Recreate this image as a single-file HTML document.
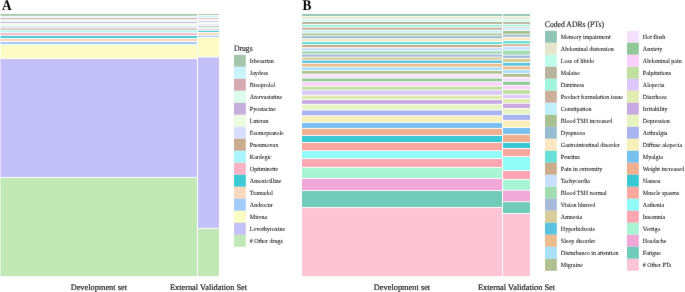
<!DOCTYPE html>
<html><head><meta charset="utf-8"><title>Mosaic</title>
<style>
html,body{margin:0;padding:0;background:#fff;}
body{width:685px;height:292px;overflow:hidden;}
svg{display:block;}
text{font-family:"Liberation Serif",serif;fill:#1e1e1e;stroke:#1e1e1e;stroke-width:0.15px;text-rendering:geometricPrecision;}
svg{will-change:transform;}
.lg{font-size:6px;stroke-width:0.08px;}
.tt{font-size:7.7px;}
.pl{font-size:13.3px;font-weight:bold;fill:#000;stroke:none;}
.ax{font-size:8.35px;text-anchor:middle;stroke-width:0.2px;}
</style></head><body>
<svg width="685" height="292" viewBox="0 0 685 292">
<rect x="0" y="0" width="685" height="292" fill="#fff"/>
<defs><filter id="bl" x="-2%" y="-2%" width="104%" height="104%" color-interpolation-filters="sRGB"><feConvolveMatrix order="3" kernelMatrix="0.00345 0.05875 0.00345 0.05875 1.00000 0.05875 0.00345 0.05875 0.00345" edgeMode="none"/></filter></defs>
<g filter="url(#bl)">
<rect x="0.50" y="14.00" width="196.50" height="1.75" fill="#a4c6aa"/>
<rect x="0.50" y="16.65" width="196.50" height="0.50" fill="#c8f4fc"/>
<rect x="0.50" y="18.05" width="196.50" height="1.10" fill="#d8aab2"/>
<rect x="0.50" y="20.05" width="196.50" height="1.10" fill="#dcfcee"/>
<rect x="0.50" y="22.05" width="196.50" height="1.00" fill="#c4aedc"/>
<rect x="0.50" y="23.95" width="196.50" height="1.40" fill="#ecfce0"/>
<rect x="0.50" y="26.25" width="196.50" height="1.50" fill="#d8dffc"/>
<rect x="0.50" y="28.65" width="196.50" height="1.10" fill="#caac8e"/>
<rect x="0.50" y="30.65" width="196.50" height="1.70" fill="#a8f6fa"/>
<rect x="0.50" y="33.25" width="196.50" height="1.90" fill="#fcb2c6"/>
<rect x="0.50" y="36.05" width="196.50" height="1.90" fill="#3ccad4"/>
<rect x="0.50" y="38.85" width="196.50" height="2.30" fill="#fcd8bc"/>
<rect x="0.50" y="42.05" width="196.50" height="2.10" fill="#a2ccfc"/>
<rect x="0.50" y="45.05" width="196.50" height="13.10" fill="#fcfcc4"/>
<rect x="0.50" y="59.05" width="196.50" height="117.90" fill="#c4c0f8"/>
<rect x="0.50" y="177.85" width="196.50" height="98.35" fill="#c2e8b6"/>
<rect x="198.00" y="14.00" width="21.00" height="1.00" fill="#a4c6aa"/>
<rect x="198.00" y="15.90" width="21.00" height="1.20" fill="#c8f4fc"/>
<rect x="198.00" y="18.00" width="21.00" height="0.75" fill="#d8aab2"/>
<rect x="198.00" y="19.65" width="21.00" height="0.75" fill="#dcfcee"/>
<rect x="198.00" y="21.30" width="21.00" height="0.65" fill="#c4aedc"/>
<rect x="198.00" y="22.85" width="21.00" height="0.60" fill="#ecfce0"/>
<rect x="198.00" y="24.35" width="21.00" height="0.75" fill="#d8dffc"/>
<rect x="198.00" y="26.00" width="21.00" height="0.70" fill="#caac8e"/>
<rect x="198.00" y="27.60" width="21.00" height="0.75" fill="#a8f6fa"/>
<rect x="198.00" y="29.25" width="21.00" height="0.70" fill="#fcb2c6"/>
<rect x="198.00" y="30.85" width="21.00" height="1.10" fill="#3ccad4"/>
<rect x="198.00" y="32.85" width="21.00" height="2.00" fill="#fcd8bc"/>
<rect x="198.00" y="35.75" width="21.00" height="1.15" fill="#a2ccfc"/>
<rect x="198.00" y="37.80" width="21.00" height="18.70" fill="#fcfcc4"/>
<rect x="198.00" y="57.40" width="21.00" height="170.50" fill="#c4c0f8"/>
<rect x="198.00" y="228.80" width="21.00" height="47.40" fill="#c2e8b6"/>
<rect x="302.00" y="14.00" width="200.00" height="1.90" fill="#90c4b4"/>
<rect x="302.00" y="16.80" width="200.00" height="1.90" fill="#e6e6cc"/>
<rect x="302.00" y="19.60" width="200.00" height="1.50" fill="#c0fcec"/>
<rect x="302.00" y="22.00" width="200.00" height="1.95" fill="#b8b49c"/>
<rect x="302.00" y="24.85" width="200.00" height="1.95" fill="#a0f4dc"/>
<rect x="302.00" y="27.70" width="200.00" height="2.00" fill="#ccb09c"/>
<rect x="302.00" y="30.60" width="200.00" height="2.05" fill="#c0f0fc"/>
<rect x="302.00" y="33.55" width="200.00" height="1.70" fill="#a8c090"/>
<rect x="302.00" y="36.15" width="200.00" height="2.10" fill="#98bcd0"/>
<rect x="302.00" y="39.15" width="200.00" height="1.95" fill="#fce8c0"/>
<rect x="302.00" y="42.00" width="200.00" height="2.15" fill="#68e0d8"/>
<rect x="302.00" y="45.05" width="200.00" height="2.10" fill="#ccac88"/>
<rect x="302.00" y="48.05" width="200.00" height="2.40" fill="#c8e0fc"/>
<rect x="302.00" y="51.35" width="200.00" height="2.30" fill="#a0dcb0"/>
<rect x="302.00" y="54.55" width="200.00" height="2.10" fill="#a8b8d8"/>
<rect x="302.00" y="57.55" width="200.00" height="2.15" fill="#d8cc98"/>
<rect x="302.00" y="60.60" width="200.00" height="2.30" fill="#58c4e0"/>
<rect x="302.00" y="63.80" width="200.00" height="2.75" fill="#ecbc8c"/>
<rect x="302.00" y="67.45" width="200.00" height="2.70" fill="#a8e0f8"/>
<rect x="302.00" y="71.05" width="200.00" height="2.70" fill="#b0c090"/>
<rect x="302.00" y="74.65" width="200.00" height="3.00" fill="#f4e0fc"/>
<rect x="302.00" y="78.55" width="200.00" height="2.75" fill="#90c898"/>
<rect x="302.00" y="82.20" width="200.00" height="3.50" fill="#fcd0fc"/>
<rect x="302.00" y="86.60" width="200.00" height="3.00" fill="#c0e0a0"/>
<rect x="302.00" y="90.50" width="200.00" height="4.25" fill="#dcc8fc"/>
<rect x="302.00" y="95.65" width="200.00" height="3.60" fill="#e0ecb0"/>
<rect x="302.00" y="100.15" width="200.00" height="3.65" fill="#c8a8e0"/>
<rect x="302.00" y="104.70" width="200.00" height="4.95" fill="#e8f4c0"/>
<rect x="302.00" y="110.55" width="200.00" height="4.75" fill="#a8b4f0"/>
<rect x="302.00" y="116.20" width="200.00" height="5.80" fill="#f8f0b8"/>
<rect x="302.00" y="122.90" width="200.00" height="5.05" fill="#78c0f0"/>
<rect x="302.00" y="128.85" width="200.00" height="6.20" fill="#f0b090"/>
<rect x="302.00" y="135.95" width="200.00" height="6.05" fill="#38c8d4"/>
<rect x="302.00" y="142.90" width="200.00" height="7.35" fill="#fca89f"/>
<rect x="302.00" y="151.15" width="200.00" height="7.05" fill="#90fcf8"/>
<rect x="302.00" y="159.10" width="200.00" height="7.80" fill="#fca6b2"/>
<rect x="302.00" y="167.80" width="200.00" height="10.15" fill="#a8f4d4"/>
<rect x="302.00" y="178.85" width="200.00" height="11.30" fill="#f0a8d8"/>
<rect x="302.00" y="191.05" width="200.00" height="15.90" fill="#70ccb8"/>
<rect x="302.00" y="207.85" width="200.00" height="68.35" fill="#fcc4d4"/>
<rect x="503.00" y="14.00" width="27.00" height="1.90" fill="#90c4b4"/>
<rect x="503.00" y="16.80" width="27.00" height="2.00" fill="#e6e6cc"/>
<rect x="503.00" y="19.70" width="27.00" height="1.40" fill="#c0fcec"/>
<rect x="503.00" y="22.00" width="27.00" height="1.85" fill="#b8b49c"/>
<rect x="503.00" y="24.75" width="27.00" height="1.50" fill="#a0f4dc"/>
<rect x="503.00" y="27.15" width="27.00" height="0.55" fill="#ccb09c"/>
<rect x="503.00" y="28.60" width="27.00" height="1.45" fill="#c0f0fc"/>
<rect x="503.00" y="30.95" width="27.00" height="2.85" fill="#a8c090"/>
<rect x="503.00" y="34.70" width="27.00" height="2.05" fill="#98bcd0"/>
<rect x="503.00" y="37.65" width="27.00" height="2.50" fill="#fce8c0"/>
<rect x="503.00" y="41.05" width="27.00" height="2.45" fill="#68e0d8"/>
<rect x="503.00" y="44.40" width="27.00" height="1.55" fill="#ccac88"/>
<rect x="503.00" y="46.85" width="27.00" height="2.85" fill="#c8e0fc"/>
<rect x="503.00" y="50.60" width="27.00" height="4.05" fill="#a0dcb0"/>
<rect x="503.00" y="55.55" width="27.00" height="2.45" fill="#a8b8d8"/>
<rect x="503.00" y="58.90" width="27.00" height="3.05" fill="#d8cc98"/>
<rect x="503.00" y="62.85" width="27.00" height="2.80" fill="#58c4e0"/>
<rect x="503.00" y="66.55" width="27.00" height="2.80" fill="#ecbc8c"/>
<rect x="503.00" y="70.25" width="27.00" height="2.70" fill="#a8e0f8"/>
<rect x="503.00" y="73.85" width="27.00" height="3.00" fill="#b0c090"/>
<rect x="503.00" y="77.75" width="27.00" height="3.10" fill="#f4e0fc"/>
<rect x="503.00" y="81.75" width="27.00" height="3.10" fill="#90c898"/>
<rect x="503.00" y="85.75" width="27.00" height="3.40" fill="#fcd0fc"/>
<rect x="503.00" y="90.05" width="27.00" height="3.85" fill="#c0e0a0"/>
<rect x="503.00" y="94.80" width="27.00" height="3.20" fill="#dcc8fc"/>
<rect x="503.00" y="98.90" width="27.00" height="3.95" fill="#e0ecb0"/>
<rect x="503.00" y="103.75" width="27.00" height="4.20" fill="#c8a8e0"/>
<rect x="503.00" y="108.85" width="27.00" height="5.05" fill="#e8f4c0"/>
<rect x="503.00" y="114.80" width="27.00" height="5.10" fill="#a8b4f0"/>
<rect x="503.00" y="120.80" width="27.00" height="6.30" fill="#f8f0b8"/>
<rect x="503.00" y="128.00" width="27.00" height="5.95" fill="#78c0f0"/>
<rect x="503.00" y="134.85" width="27.00" height="7.15" fill="#f0b090"/>
<rect x="503.00" y="142.90" width="27.00" height="5.15" fill="#38c8d4"/>
<rect x="503.00" y="148.95" width="27.00" height="7.20" fill="#fca89f"/>
<rect x="503.00" y="157.05" width="27.00" height="13.10" fill="#90fcf8"/>
<rect x="503.00" y="171.05" width="27.00" height="7.85" fill="#fca6b2"/>
<rect x="503.00" y="179.80" width="27.00" height="9.95" fill="#a8f4d4"/>
<rect x="503.00" y="190.65" width="27.00" height="10.70" fill="#f0a8d8"/>
<rect x="503.00" y="202.25" width="27.00" height="10.80" fill="#70ccb8"/>
<rect x="503.00" y="213.95" width="27.00" height="62.25" fill="#fcc4d4"/>
<rect x="234.00" y="54.80" width="11.80" height="12.00" fill="#a4c6aa"/>
<text transform="translate(249.80 63.45) scale(1 1.05)" class="lg">Irbesartan</text>
<rect x="234.00" y="66.80" width="11.80" height="12.00" fill="#c8f4fc"/>
<text transform="translate(249.80 75.45) scale(1 1.05)" class="lg">Jaydess</text>
<rect x="234.00" y="78.80" width="11.80" height="12.00" fill="#d8aab2"/>
<text transform="translate(249.80 87.45) scale(1 1.05)" class="lg">Bisoprolol</text>
<rect x="234.00" y="90.80" width="11.80" height="12.00" fill="#dcfcee"/>
<text transform="translate(249.80 99.45) scale(1 1.05)" class="lg">Atorvastatine</text>
<rect x="234.00" y="102.80" width="11.80" height="12.00" fill="#c4aedc"/>
<text transform="translate(249.80 111.45) scale(1 1.05)" class="lg">Pyostacine</text>
<rect x="234.00" y="114.80" width="11.80" height="12.00" fill="#ecfce0"/>
<text transform="translate(249.80 123.45) scale(1 1.05)" class="lg">Luteran</text>
<rect x="234.00" y="126.80" width="11.80" height="12.00" fill="#d8dffc"/>
<text transform="translate(249.80 135.45) scale(1 1.05)" class="lg">Esomeprazole</text>
<rect x="234.00" y="138.80" width="11.80" height="12.00" fill="#caac8e"/>
<text transform="translate(249.80 147.45) scale(1 1.05)" class="lg">Pneumovax</text>
<rect x="234.00" y="150.80" width="11.80" height="12.00" fill="#a8f6fa"/>
<text transform="translate(249.80 159.45) scale(1 1.05)" class="lg">Kardegic</text>
<rect x="234.00" y="162.80" width="11.80" height="12.00" fill="#fcb2c6"/>
<text transform="translate(249.80 171.45) scale(1 1.05)" class="lg">Optimizette</text>
<rect x="234.00" y="174.80" width="11.80" height="12.00" fill="#3ccad4"/>
<text transform="translate(249.80 183.45) scale(1 1.05)" class="lg">Amoxicilline</text>
<rect x="234.00" y="186.80" width="11.80" height="12.00" fill="#fcd8bc"/>
<text transform="translate(249.80 195.45) scale(1 1.05)" class="lg">Tramadol</text>
<rect x="234.00" y="198.80" width="11.80" height="12.00" fill="#a2ccfc"/>
<text transform="translate(249.80 207.45) scale(1 1.05)" class="lg">Androcur</text>
<rect x="234.00" y="210.80" width="11.80" height="12.00" fill="#fcfcc4"/>
<text transform="translate(249.80 219.45) scale(1 1.05)" class="lg">Mirena</text>
<rect x="234.00" y="222.80" width="11.80" height="12.00" fill="#c4c0f8"/>
<text transform="translate(249.80 231.45) scale(1 1.05)" class="lg">Levothyroxine</text>
<rect x="234.00" y="234.80" width="11.80" height="12.00" fill="#c2e8b6"/>
<text transform="translate(249.80 243.45) scale(1 1.05)" class="lg"># Other drugs</text>
<rect x="545.00" y="30.80" width="11.80" height="12.00" fill="#90c4b4"/>
<text transform="translate(560.80 39.45) scale(1 1.05)" class="lg">Memory impairment</text>
<rect x="545.00" y="42.80" width="11.80" height="12.00" fill="#e6e6cc"/>
<text transform="translate(560.80 51.45) scale(1 1.05)" class="lg">Abdominal distension</text>
<rect x="545.00" y="54.80" width="11.80" height="12.00" fill="#c0fcec"/>
<text transform="translate(560.80 63.45) scale(1 1.05)" class="lg">Loss of libido</text>
<rect x="545.00" y="66.80" width="11.80" height="12.00" fill="#b8b49c"/>
<text transform="translate(560.80 75.45) scale(1 1.05)" class="lg">Malaise</text>
<rect x="545.00" y="78.80" width="11.80" height="12.00" fill="#a0f4dc"/>
<text transform="translate(560.80 87.45) scale(1 1.05)" class="lg">Dizziness</text>
<rect x="545.00" y="90.80" width="11.80" height="12.00" fill="#ccb09c"/>
<text transform="translate(560.80 99.45) scale(1 1.05)" class="lg">Product formulation issue</text>
<rect x="545.00" y="102.80" width="11.80" height="12.00" fill="#c0f0fc"/>
<text transform="translate(560.80 111.45) scale(1 1.05)" class="lg">Constipation</text>
<rect x="545.00" y="114.80" width="11.80" height="12.00" fill="#a8c090"/>
<text transform="translate(560.80 123.45) scale(1 1.05)" class="lg">Blood TSH increased</text>
<rect x="545.00" y="126.80" width="11.80" height="12.00" fill="#98bcd0"/>
<text transform="translate(560.80 135.45) scale(1 1.05)" class="lg">Dyspnoea</text>
<rect x="545.00" y="138.80" width="11.80" height="12.00" fill="#fce8c0"/>
<text transform="translate(560.80 147.45) scale(1 1.05)" class="lg">Gastrointestinal disorder</text>
<rect x="545.00" y="150.80" width="11.80" height="12.00" fill="#68e0d8"/>
<text transform="translate(560.80 159.45) scale(1 1.05)" class="lg">Pruritus</text>
<rect x="545.00" y="162.80" width="11.80" height="12.00" fill="#ccac88"/>
<text transform="translate(560.80 171.45) scale(1 1.05)" class="lg">Pain in extremity</text>
<rect x="545.00" y="174.80" width="11.80" height="12.00" fill="#c8e0fc"/>
<text transform="translate(560.80 183.45) scale(1 1.05)" class="lg">Tachycardia</text>
<rect x="545.00" y="186.80" width="11.80" height="12.00" fill="#a0dcb0"/>
<text transform="translate(560.80 195.45) scale(1 1.05)" class="lg">Blood TSH normal</text>
<rect x="545.00" y="198.80" width="11.80" height="12.00" fill="#a8b8d8"/>
<text transform="translate(560.80 207.45) scale(1 1.05)" class="lg">Vision blurred</text>
<rect x="545.00" y="210.80" width="11.80" height="12.00" fill="#d8cc98"/>
<text transform="translate(560.80 219.45) scale(1 1.05)" class="lg">Amnesia</text>
<rect x="545.00" y="222.80" width="11.80" height="12.00" fill="#58c4e0"/>
<text transform="translate(560.80 231.45) scale(1 1.05)" class="lg">Hyperhidrosis</text>
<rect x="545.00" y="234.80" width="11.80" height="12.00" fill="#ecbc8c"/>
<text transform="translate(560.80 243.45) scale(1 1.05)" class="lg">Sleep disorder</text>
<rect x="545.00" y="246.80" width="11.80" height="12.00" fill="#a8e0f8"/>
<text transform="translate(560.80 255.45) scale(1 1.05)" class="lg">Disturbance in attention</text>
<rect x="545.00" y="258.80" width="11.80" height="12.00" fill="#b0c090"/>
<text transform="translate(560.80 267.45) scale(1 1.05)" class="lg">Migraine</text>
<rect x="627.00" y="30.80" width="11.80" height="12.00" fill="#f4e0fc"/>
<text transform="translate(642.80 39.45) scale(1 1.05)" class="lg">Hot flush</text>
<rect x="627.00" y="42.80" width="11.80" height="12.00" fill="#90c898"/>
<text transform="translate(642.80 51.45) scale(1 1.05)" class="lg">Anxiety</text>
<rect x="627.00" y="54.80" width="11.80" height="12.00" fill="#fcd0fc"/>
<text transform="translate(642.80 63.45) scale(1 1.05)" class="lg">Abdominal pain</text>
<rect x="627.00" y="66.80" width="11.80" height="12.00" fill="#c0e0a0"/>
<text transform="translate(642.80 75.45) scale(1 1.05)" class="lg">Palpitations</text>
<rect x="627.00" y="78.80" width="11.80" height="12.00" fill="#dcc8fc"/>
<text transform="translate(642.80 87.45) scale(1 1.05)" class="lg">Alopecia</text>
<rect x="627.00" y="90.80" width="11.80" height="12.00" fill="#e0ecb0"/>
<text transform="translate(642.80 99.45) scale(1 1.05)" class="lg">Diarrhoea</text>
<rect x="627.00" y="102.80" width="11.80" height="12.00" fill="#c8a8e0"/>
<text transform="translate(642.80 111.45) scale(1 1.05)" class="lg">Irritability</text>
<rect x="627.00" y="114.80" width="11.80" height="12.00" fill="#e8f4c0"/>
<text transform="translate(642.80 123.45) scale(1 1.05)" class="lg">Depression</text>
<rect x="627.00" y="126.80" width="11.80" height="12.00" fill="#a8b4f0"/>
<text transform="translate(642.80 135.45) scale(1 1.05)" class="lg">Arthralgia</text>
<rect x="627.00" y="138.80" width="11.80" height="12.00" fill="#f8f0b8"/>
<text transform="translate(642.80 147.45) scale(1 1.05)" class="lg">Diffuse alopecia</text>
<rect x="627.00" y="150.80" width="11.80" height="12.00" fill="#78c0f0"/>
<text transform="translate(642.80 159.45) scale(1 1.05)" class="lg">Myalgia</text>
<rect x="627.00" y="162.80" width="11.80" height="12.00" fill="#f0b090"/>
<text transform="translate(642.80 171.45) scale(1 1.05)" class="lg">Weight increased</text>
<rect x="627.00" y="174.80" width="11.80" height="12.00" fill="#38c8d4"/>
<text transform="translate(642.80 183.45) scale(1 1.05)" class="lg">Nausea</text>
<rect x="627.00" y="186.80" width="11.80" height="12.00" fill="#fca89f"/>
<text transform="translate(642.80 195.45) scale(1 1.05)" class="lg">Muscle spasms</text>
<rect x="627.00" y="198.80" width="11.80" height="12.00" fill="#90fcf8"/>
<text transform="translate(642.80 207.45) scale(1 1.05)" class="lg">Asthenia</text>
<rect x="627.00" y="210.80" width="11.80" height="12.00" fill="#fca6b2"/>
<text transform="translate(642.80 219.45) scale(1 1.05)" class="lg">Insomnia</text>
<rect x="627.00" y="222.80" width="11.80" height="12.00" fill="#a8f4d4"/>
<text transform="translate(642.80 231.45) scale(1 1.05)" class="lg">Vertigo</text>
<rect x="627.00" y="234.80" width="11.80" height="12.00" fill="#f0a8d8"/>
<text transform="translate(642.80 243.45) scale(1 1.05)" class="lg">Headache</text>
<rect x="627.00" y="246.80" width="11.80" height="12.00" fill="#70ccb8"/>
<text transform="translate(642.80 255.45) scale(1 1.05)" class="lg">Fatigue</text>
<rect x="627.00" y="258.80" width="11.80" height="12.00" fill="#fcc4d4"/>
<text transform="translate(642.80 267.45) scale(1 1.05)" class="lg"># Other PTs</text>
<text transform="translate(233.9 50.6) scale(1 1.1)" class="tt">Drugs</text>
<text transform="translate(544.8 26.7) scale(1 1.1)" class="tt">Coded ADRs (PTs)</text>
<text transform="translate(1.9 9.8) scale(1 1.12)" class="pl">A</text>
<text transform="translate(302.5 9.8) scale(1 1.12)" class="pl">B</text>
<text x="98.8" y="289.8" class="ax">Development set</text>
<text x="208.5" y="289.8" class="ax">External Validation Set</text>
<text x="402" y="289.8" class="ax">Development set</text>
<text x="516.5" y="289.8" class="ax">External Validation Set</text>
</g>
</svg>
</body></html>
